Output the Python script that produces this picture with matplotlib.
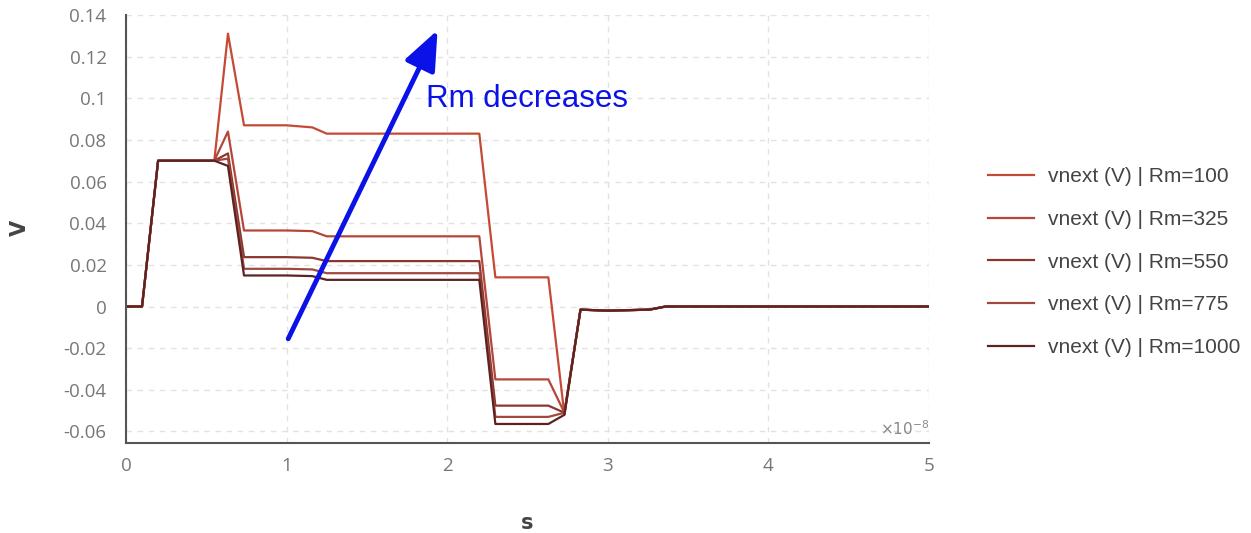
import matplotlib.pyplot as plt

# time axis in units of 1e-8 s
t = [0, 0.1, 0.2, 0.55, 0.635, 0.735, 1.0, 1.16, 1.25, 2.2, 2.3, 2.63, 2.73, 2.83, 3.0, 3.26, 3.36, 5.0]

v_rm100 = [0, 0, 0.07, 0.07, 0.131, 0.087, 0.087, 0.086, 0.083, 0.083, 0.014, 0.014, -0.052, -0.0015, -0.002, -0.0015, 0, 0]
v_rm325 = [0, 0, 0.07, 0.07, 0.084, 0.0365, 0.0365, 0.0362, 0.0337, 0.0337, -0.035, -0.035, -0.051, -0.0015, -0.002, -0.0015, 0, 0]
v_rm550 = [0, 0, 0.07, 0.07, 0.0735, 0.0237, 0.0237, 0.0234, 0.0218, 0.0218, -0.0476, -0.0476, -0.051, -0.0015, -0.002, -0.0015, 0, 0]
v_rm775 = [0, 0, 0.07, 0.07, 0.071, 0.0181, 0.0181, 0.0178, 0.016, 0.016, -0.053, -0.053, -0.051, -0.0015, -0.002, -0.0015, 0, 0]
v_rm1000 = [0, 0, 0.07, 0.07, 0.0675, 0.0149, 0.0149, 0.0146, 0.0128, 0.0128, -0.0564, -0.0564, -0.052, -0.0015, -0.002, -0.0015, 0, 0]

labels = ['vnext (V) | Rm=100', 'vnext (V) | Rm=325', 'vnext (V) | Rm=550',
          'vnext (V) | Rm=775', 'vnext (V) | Rm=1000']
colors = ['#c44a35', '#b5473a', '#8a372f', '#a2493f', '#5c2321']
series = [v_rm100, v_rm325, v_rm550, v_rm775, v_rm1000]

fig = plt.figure(figsize=(12.51, 5.33), dpi=100)
ax = fig.add_axes([0.1007, 0.169, 0.6419, 0.803])

for v, c, lab in zip(series, colors, labels):
    ax.plot(t, v, color=c, lw=1.6, label=lab)

ax.set_xlim(0, 5)
ax.set_ylim(-0.0655, 0.14)
ax.set_xticks([0, 1, 2, 3, 4, 5])
ax.set_yticks([-0.06, -0.04, -0.02, 0, 0.02, 0.04, 0.06, 0.08, 0.1, 0.12, 0.14])
ax.set_yticklabels(['-0.06', '-0.04', '-0.02', '0', '0.02', '0.04', '0.06', '0.08', '0.1', '0.12', '0.14'])
ax.tick_params(length=0, labelsize=13.5, labelcolor='#777777')
ax.tick_params(axis='y', pad=14)
ax.tick_params(axis='x', pad=10)
for lbl in ax.get_xticklabels() + ax.get_yticklabels():
    lbl.set_family('Open Sans')
ax.grid(True, color='#e2e2e2', linestyle=(0, (4, 4)), lw=1)
for s in ['top', 'right']:
    ax.spines[s].set_visible(False)
for s in ['left', 'bottom']:
    ax.spines[s].set_color('#555555')
    ax.spines[s].set_linewidth(1.5)

fig.text(527 / 1251, 0.019, 's', fontsize=15, fontweight='bold', color='#444444',
         ha='center', va='center')
fig.text(20 / 1251, (533 - 228) / 533, 'V', fontsize=15, fontweight='bold', color='#444444',
         ha='center', va='center', rotation=90)
ax.text(1.0, 0.012, r'$\times\mathit{10}^{-8}$', transform=ax.transAxes, ha='right', va='bottom',
        fontsize=11, color='#888888')

# annotation arrow
ax.annotate('', xy=(1.94, 0.1327), xytext=(1.01, -0.0155),
            arrowprops=dict(arrowstyle='-|>,head_length=1.1,head_width=0.45', color='#0a12e8',
                            lw=3.5, mutation_scale=22, shrinkA=0, shrinkB=0))
ax.text(2.5, 0.0995, 'Rm decreases', color='#0a12e8', fontsize=22.5, ha='center', va='center',
        family='Liberation Sans')

fig.legend(loc='center left', bbox_to_anchor=(0.775, 0.508), frameon=False,
           prop={'family': 'Liberation Sans', 'size': 15}, labelspacing=1.14,
           handlelength=2.2, handletextpad=0.67, labelcolor='#444444')

fig.savefig('out.png', dpi=100)
